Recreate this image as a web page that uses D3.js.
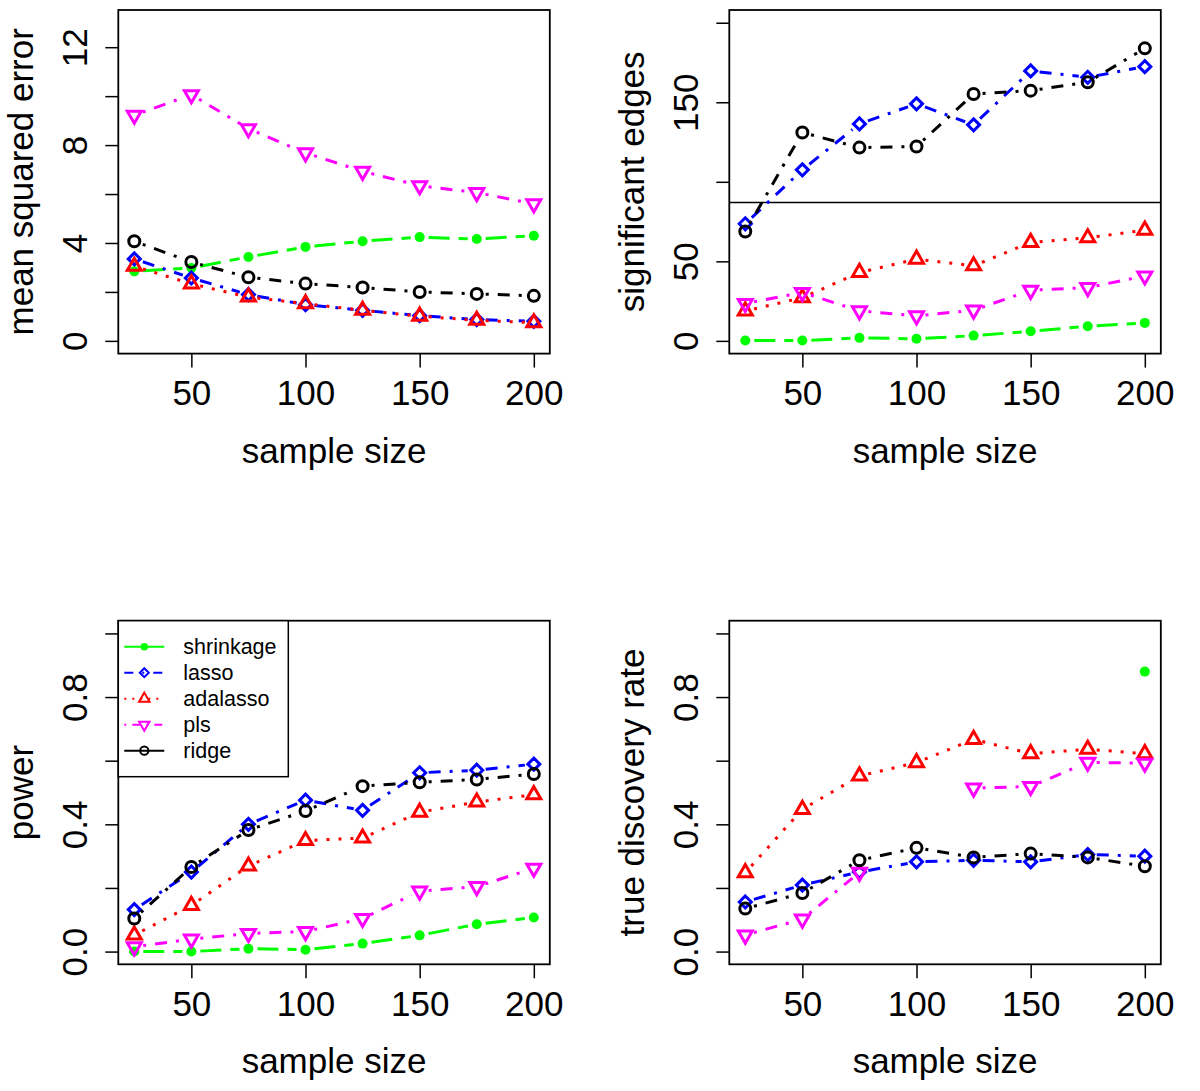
<!DOCTYPE html>
<html>
<head>
<meta charset="utf-8">
<title>sample size simulation</title>
<script src="https://cdn.jsdelivr.net/npm/d3@7"></script>
<style>
  body { margin: 0; background: #fff; }
  text { font-family: "Liberation Sans", Arial, Helvetica, sans-serif; fill: #000; }
</style>
</head>
<body>
<script>
// sample sizes on the x axis
const sampleSizes = [25, 50, 75, 100, 125, 150, 175, 200];
const methodNames = ["shrinkage", "lasso", "adalasso", "pls", "ridge"];

// mean squared error
const mseShrinkage = [2.84, 2.98, 3.43, 3.84, 4.07, 4.24, 4.16, 4.30];
const mseLasso     = [3.35, 2.57, 1.89, 1.48, 1.25, 1.03, 0.87, 0.80];
const mseAdalasso  = [3.05, 2.33, 1.79, 1.52, 1.25, 1.01, 0.84, 0.74];
const msePls       = [9.22, 10.06, 8.67, 7.68, 6.93, 6.34, 6.06, 5.60];
const mseRidge     = [4.07, 3.22, 2.60, 2.34, 2.18, 2.00, 1.92, 1.84];

// number of significant edges
const edgesShrinkage = [0.2, 0.2, 1.9, 1.3, 3.3, 6.0, 9.2, 11.3];
const edgesLasso     = [73.6, 107.5, 136.4, 149, 135.8, 169.7, 165.7, 172.4];
const edgesAdalasso  = [18.8, 27.1, 43.0, 51.4, 47.2, 61.9, 64.8, 69.6];
const edgesPls       = [23.5, 30.4, 18.9, 15.7, 19.3, 31.8, 33.5, 40.8];
const edgesRidge     = [68.8, 131, 121.5, 122.2, 155.2, 157.3, 162.6, 183.9];
const trueEdges = 87;

// power
const powerShrinkage = [0, 0, 0.009, 0.006, 0.025, 0.051, 0.086, 0.107];
const powerLasso     = [0.132, 0.250, 0.400, 0.476, 0.444, 0.562, 0.570, 0.589];
const powerAdalasso  = [0.052, 0.145, 0.269, 0.349, 0.357, 0.438, 0.470, 0.493];
const powerPls       = [0.015, 0.039, 0.057, 0.063, 0.104, 0.190, 0.204, 0.262];
const powerRidge     = [0.104, 0.266, 0.382, 0.442, 0.520, 0.532, 0.541, 0.558];

// true discovery rate (null = not defined)
const tdrShrinkage = [null, null, null, null, null, null, null, 0.880];
const tdrLasso     = [0.156, 0.209, 0.250, 0.282, 0.287, 0.282, 0.305, 0.300];
const tdrAdalasso  = [0.248, 0.447, 0.552, 0.594, 0.667, 0.622, 0.636, 0.622];
const tdrPls       = [0.052, 0.102, 0.249, null, 0.514, 0.519, 0.595, 0.592];
const tdrRidge     = [0.135, 0.184, 0.287, 0.326, 0.296, 0.308, 0.296, 0.268];

// tick values / labels
const xTicks = [50, 100, 150, 200];
const mseTicks = [0, 2, 4, 6, 8, 10, 12], mseLabels = [0, 4, 8, 12];
const edgeTicks = [0, 50, 100, 150, 200], edgeLabels = [0, 50, 150];
const rateTicks = [0, 0.2, 0.4, 0.6, 0.8, 1.0], rateLabels = [0, 0.4, 0.8];

// styles for each method
const styles = {
  shrinkage: {color: "#00ff00", dash: "21,9",       legDash: null,       shape: "dot"},
  lasso:     {color: "#0000ff", dash: "12,9,3,9",   legDash: "9,9,2,9",  shape: "diamond"},
  adalasso:  {color: "#ff0000", dash: "3,9",        legDash: "2,6",      shape: "up"},
  pls:       {color: "#ff00ff", dash: "3,9,12,9",   legDash: "2,6,8,6",  shape: "down"},
  ridge:     {color: "#000000", dash: "3,9,12,9",   legDash: null,       shape: "circle"}
};

const panels = [
  {left: 118.3, top: 10,    ylim: [0, 13],  ticks: mseTicks,  labels: mseLabels,  fmt: d3.format("d"),
   title: "mean squared error", series: [mseShrinkage, mseLasso, mseAdalasso, msePls, mseRidge]},
  {left: 729.3, top: 10,    ylim: [0, 200], ticks: edgeTicks, labels: edgeLabels, fmt: d3.format("d"),
   title: "significant edges", series: [edgesShrinkage, edgesLasso, edgesAdalasso, edgesPls, edgesRidge], hline: trueEdges},
  {left: 118.3, top: 620.7, ylim: [0, 1],   ticks: rateTicks, labels: rateLabels, fmt: d3.format(".1f"),
   title: "power", series: [powerShrinkage, powerLasso, powerAdalasso, powerPls, powerRidge], legend: true},
  {left: 729.3, top: 620.7, ylim: [0, 1],   ticks: rateTicks, labels: rateLabels, fmt: d3.format(".1f"),
   title: "true discovery rate", series: [tdrShrinkage, tdrLasso, tdrAdalasso, tdrPls, tdrRidge]}
];

const pw = 431.5, ph = 343.6;

const svg = d3.select("body").append("svg").attr("width", 1200).attr("height", 1091);

// R style 4% range extension
function ext(lim){
  let r = lim[1] - lim[0];
  return [lim[0] - 0.04 * r, lim[1] + 0.04 * r];
}

function drawMarker(g, shape, color, cx, cy, s, lw){
  if (shape == "dot") {
    g.append("circle").attr("cx", cx).attr("cy", cy).attr("r", 5 * s).attr("fill", color);
  } else if (shape == "circle") {
    g.append("circle").attr("cx", cx).attr("cy", cy).attr("r", 5.5 * s)
      .attr("fill", "none").attr("stroke", color).attr("stroke-width", lw);
  } else if (shape == "diamond") {
    let r = 6 * s;
    g.append("path").attr("d", `M${cx},${cy - r}L${cx + r},${cy}L${cx},${cy + r}L${cx - r},${cy}Z`)
      .attr("fill", "none").attr("stroke", color).attr("stroke-width", lw);
  } else {
    let r = 8.1 * s, xc = 7 * s, yc = 4.05 * s;
    let sg = shape == "up" ? 1 : -1;
    g.append("path").attr("d", `M${cx},${cy - sg * r}L${cx + xc},${cy + sg * yc}L${cx - xc},${cy + sg * yc}Z`)
      .attr("fill", "none").attr("stroke", color).attr("stroke-width", lw).attr("stroke-linejoin", "miter");
  }
}

const x = d3.scaleLinear().domain(ext(d3.extent(sampleSizes))).range([0, pw]);

panels.forEach(p=>{
  let g = svg.append("g").attr("transform", `translate(${p.left},${p.top})`);
  let y = d3.scaleLinear().domain(ext(p.ylim)).range([ph, 0]);

  // x axis
  let xa = g.append("g").attr("transform", `translate(0,${ph})`)
    .call(d3.axisBottom(x).tickValues(xTicks).tickSize(14).tickPadding(13).tickFormat(d3.format("d")));
  xa.select(".domain").remove();
  xa.selectAll("line").attr("stroke-width", 1.5);
  xa.selectAll("text").attr("font-size", 35).attr("font-family", null);

  // y axis
  let ya = g.append("g")
    .call(d3.axisLeft(y).tickValues(p.ticks).tickSize(13)
      .tickFormat(d => p.labels.some(v => Math.abs(v - d) < 1e-9) ? p.fmt(d) : ""));
  ya.select(".domain").remove();
  ya.selectAll("line").attr("stroke-width", 1.5);
  ya.selectAll("text").attr("font-size", 35).attr("font-family", null)
    .attr("transform", "rotate(-90)").attr("text-anchor", "middle")
    .attr("x", 0).attr("y", -31).attr("dy", null);

  // axis titles
  g.append("text").attr("x", pw / 2).attr("y", ph + 109).attr("text-anchor", "middle")
    .attr("font-size", 35).text("sample size");
  g.append("text").attr("transform", `translate(-85,${ph / 2}) rotate(-90)`).attr("text-anchor", "middle")
    .attr("font-size", 35).text(p.title);

  // horizontal reference line
  if (p.hline != null) {
    g.append("line").attr("x1", 0).attr("x2", pw).attr("y1", y(p.hline)).attr("y2", y(p.hline))
      .attr("stroke", "#000").attr("stroke-width", 1.5);
  }

  // series, type "b": segments with a gap around each point
  let gap = 9;
  p.series.forEach((vals, i)=>{
    let st = styles[methodNames[i]];
    let pts = sampleSizes.map((s, k) => vals[k] == null ? null : [x(s), y(vals[k])]);
    for (let k = 0; k < pts.length - 1; k++) {
      let a = pts[k], b = pts[k + 1];
      if (!a || !b) continue;
      let dx = b[0] - a[0], dy = b[1] - a[1], len = Math.hypot(dx, dy);
      if (len <= 2 * gap) continue;
      let ux = dx / len, uy = dy / len;
      g.append("line")
        .attr("x1", a[0] + ux * gap).attr("y1", a[1] + uy * gap)
        .attr("x2", b[0] - ux * gap).attr("y2", b[1] - uy * gap)
        .attr("stroke", st.color).attr("stroke-width", 3).attr("stroke-dasharray", st.dash);
    }
    pts.forEach(pt=>{
      if (pt) drawMarker(g, st.shape, st.color, pt[0], pt[1], 1, 3);
    });
  });

  // box
  g.append("rect").attr("x", 0).attr("y", 0).attr("width", pw).attr("height", ph)
    .attr("fill", "none").attr("stroke", "#000").attr("stroke-width", 1.8);

  // legend
  if (p.legend) {
    let lg = g.append("g");
    lg.append("rect").attr("x", 0).attr("y", 0).attr("width", 170).attr("height", 156)
      .attr("fill", "#fff").attr("stroke", "#000").attr("stroke-width", 1.5);
    methodNames.forEach((m, i)=>{
      let st = styles[m];
      let ly = 26 + i * 26;
      let ln = lg.append("line").attr("x1", 6).attr("x2", 46).attr("y1", ly).attr("y2", ly)
        .attr("stroke", st.color).attr("stroke-width", 2);
      if (st.legDash) ln.attr("stroke-dasharray", st.legDash);
      drawMarker(lg, st.shape, st.color, 26, ly, 0.75, 2);
      lg.append("text").attr("x", 65).attr("y", ly + 7.5).attr("font-size", 21.5).text(m);
    });
  }
});
</script>
</body>
</html>
